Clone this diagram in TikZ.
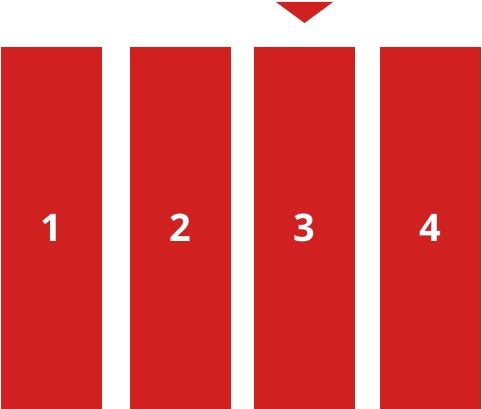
\documentclass[tikz,border=0pt]{standalone}
\usepackage{fontspec}
\setmainfont{Open Sans}
\definecolor{barred}{RGB}{208,32,32}
\begin{document}
\begin{tikzpicture}[x=1pt,y=-1pt,
  bar/.style={fill=barred,draw=none},
  num/.style={text=white,font=\fontsize{38}{38}\selectfont\bfseries,inner sep=0pt,anchor=center}]
\useasboundingbox (0,0) rectangle (482,409);
\fill[bar] (1,47) rectangle (102,409);
\fill[bar] (130,47) rectangle (231,409);
\fill[bar] (254,47) rectangle (355,409);
\fill[bar] (380,47) rectangle (481,409);
\fill[bar] (276,2) -- (333,2) -- (304.5,23) -- cycle;
\node[num] (n1) at (51.5,228) {1};
\node[num] (n2) at (180.5,228) {2};
\node[num] (n3) at (304.5,228) {3};
\node[num] (n4) at (430.5,228) {4};
\end{tikzpicture}
\end{document}
